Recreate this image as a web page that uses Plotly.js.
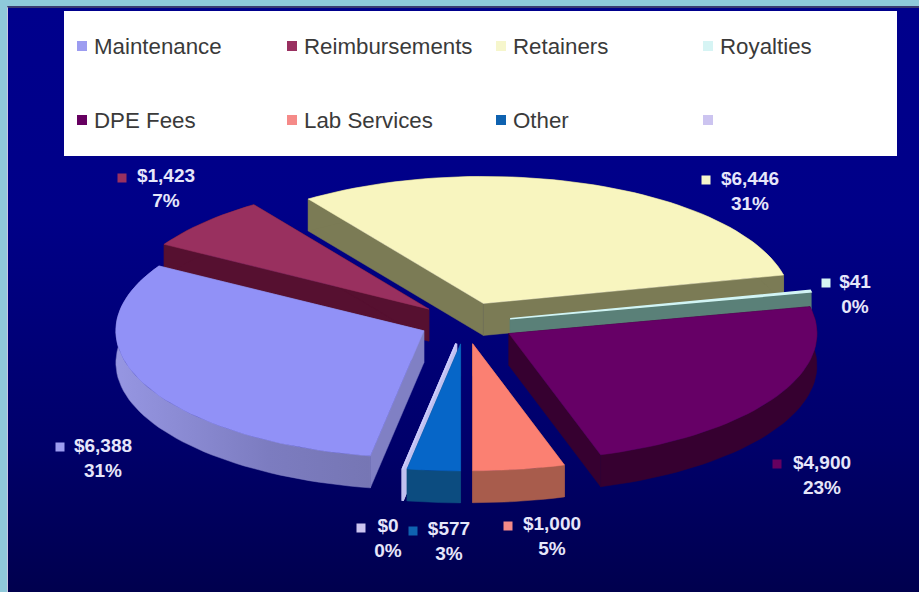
<!DOCTYPE html>
<html>
<head>
<meta charset="utf-8">
<script src="https://cdn.plot.ly/plotly-3.0.1.min.js"></script>
<style>
  html, body { margin: 0; padding: 0; background: #8fc9da; }
  #frame { position: absolute; left: 0; top: 0; width: 919px; height: 592px; background: #8fc9da; }
  #panel { position: absolute; left: 7px; top: 6px; right: 0; bottom: 0;
           background: linear-gradient(#00008c, #000088 35%, #00006a 75%, #00004e);
           border-left: 1px solid #c8c8e0; border-top: 2px solid #3a3a70; }
  #chart { position: absolute; left: 0; top: 0; width: 919px; height: 592px; }
</style>
</head>
<body>
<div id="frame"><div id="panel"></div><div id="chart"></div></div>
<script>
// Revenue by source
const categories = ['Maintenance', 'Reimbursements', 'Retainers', 'Royalties', 'DPE Fees', 'Lab Services', 'Other', ''];
const amounts = [6388, 1423, 6446, 41, 4900, 1000, 577, 0];
const percentLabels = ['31%', '7%', '31%', '0%', '23%', '5%', '3%', '0%'];

const topColors = ['#9191f7', '#99305f', '#f8f5bf', '#d2f5f5', '#660066', '#fb8072', '#0666c8', '#ccccff'];
const sideColors = ['#8080c4', '#561030', '#7b7b55', '#5a8078', '#360030', '#a85c4c', '#0c4c80', '#c0c0f0'];
const legendKeyColors = ['#9c9cf0', '#993060', '#f6f6cc', '#d6f4f4', '#660060', '#f58a88', '#0f62b0', '#ccc4f0'];

// Pie projection, in the page units of the two hidden axes
const centre = { x: 465, y: 323 };
const radius = { x: 308, y: 127 };
const thickness = 32;
const pulls = [0.147, 0.16, 0.165, 0.15, 0.165, 0.165, 0.165, 0.165];
const firstSliceAngle = 190;

// Placement of the data labels and the legend grid
const labelX = [103, 166, 750, 855, 822, 552, 449, 388];
const labelY = [459.5, 190, 193, 295.5, 477, 538, 543, 540];
const labelKeyX = [60, 122, 706, 826, 777, 508, 413, 361];
const labelKeyY = [447, 178, 180, 283, 464, 526, 531, 528];
const legendColumnX = [82, 292, 501, 708];
const legendRowY = [46, 120];

const total = amounts.reduce((a, b) => a + b, 0);
const rad = d => d * Math.PI / 180;

function slices() {
  let angle = firstSliceAngle;
  return amounts.map((v, i) => {
    const start = angle, end = angle + v / total * 360;
    angle = end;
    const mid = rad((start + end) / 2);
    return { i, start, end,
      ax: centre.x + pulls[i] * radius.x * Math.sin(mid),
      ay: centre.y - pulls[i] * radius.y * Math.cos(mid) };
  });
}

function arc(s) {
  const pts = [], n = Math.max(2, Math.ceil((s.end - s.start) / 2));
  for (let k = 0; k <= n; k++) {
    const t = rad(s.start + (s.end - s.start) * k / n);
    pts.push([s.ax + radius.x * Math.sin(t), s.ay - radius.y * Math.cos(t)]);
  }
  return pts;
}

function polygon(points, fill, lineWidth, extra) {
  return Object.assign({ type: 'scatter', mode: 'lines', x: points.map(p => p[0]), y: points.map(p => p[1]),
    fill: 'toself', fillcolor: fill, line: { color: fill, width: lineWidth }, hoverinfo: 'skip', showlegend: false }, extra || {});
}

// Each wall is its own trace, so overlapping walls do not cancel each other's fill
function sideTraces(s) {
  const a = arc(s), o = [s.ax, s.ay];
  const first = a[0], last = a[a.length - 1];
  const down = p => [p[0], p[1] + thickness];
  const colour = sideColors[s.i];
  const width = s.i === 7 ? 2 : 0.5;
  const band = a.concat(a.slice().reverse().map(down)).concat([a[0]]);
  const bandStyle = s.i === 0 ? { fillgradient: { type: 'horizontal',
    colorscale: [[0, '#9696e2'], [0.6, '#7c7cc0'], [1, '#7676b4']] } } : {};
  return [
    polygon([o, first, down(first), down(o), o], colour, width),
    polygon([o, last, down(last), down(o), o], colour, width),
    polygon(band, colour, width, bandStyle)
  ];
}

function topTrace(s) {
  const p = [[s.ax, s.ay]].concat(arc(s)).concat([[s.ax, s.ay]]);
  return polygon(p, topColors[s.i], (s.i === 3 || s.i === 7) ? 1.5 : 0.5, { name: categories[s.i], hoverinfo: 'name' });
}

// Back slices are painted first so nearer ones overlap them; the empty slice
// only leaves a thin edge around the slice next to it
const geo = slices();
const traces = [];
[2, 1, 3, 0, 4, 5].forEach(i => { traces.push(...sideTraces(geo[i]), topTrace(geo[i])); });
traces.push(...sideTraces(geo[7]));
traces.push(...sideTraces(geo[6]), topTrace(geo[6]));
traces.push(topTrace(geo[7]));

// Legend keys and names
const legendX = categories.map((_, i) => legendColumnX[i % 4]);
const legendY = categories.map((_, i) => legendRowY[Math.floor(i / 4)]);
traces.push({ type: 'scatter', mode: 'markers', x: legendX, y: legendY, hoverinfo: 'skip', showlegend: false,
  marker: { symbol: 'square', size: 10, color: legendKeyColors, line: { width: 0 } } });

// Data label keys and texts
traces.push({ type: 'scatter', mode: 'markers', x: labelKeyX, y: labelKeyY, hoverinfo: 'skip', showlegend: false,
  marker: { symbol: 'square', size: 9, color: legendKeyColors, line: { width: 0 } } });
traces.push({ type: 'scatter', mode: 'text', x: labelX, y: labelY, hoverinfo: 'skip', showlegend: false,
  text: amounts.map((v, i) => '<b>$' + v.toLocaleString('en-US') + '<br>' + percentLabels[i] + '</b>'),
  textposition: 'middle center',
  textfont: { family: 'Liberation Sans, Arial, sans-serif', size: 19, color: '#e6e6fa' } });

const legendNames = categories.map((name, i) => ({
  x: legendX[i] + 9.5, y: legendY[i], text: name, xref: 'x', yref: 'y', xanchor: 'left', yanchor: 'middle',
  showarrow: false, font: { family: 'Liberation Sans, Arial, sans-serif', size: 22.3, color: '#3a3a3a' }
})).filter(a => a.text);

const layout = {
  width: 919, height: 592, margin: { l: 0, r: 0, t: 0, b: 0 },
  paper_bgcolor: 'rgba(0,0,0,0)', plot_bgcolor: 'rgba(0,0,0,0)', showlegend: false,
  xaxis: { range: [0, 919], visible: false, fixedrange: true },
  yaxis: { range: [592, 0], visible: false, fixedrange: true },
  shapes: [{ type: 'rect', xref: 'x', yref: 'y', x0: 64, x1: 897, y0: 11, y1: 156, layer: 'below',
             fillcolor: '#ffffff', line: { width: 0 } }],
  annotations: legendNames
};

Plotly.newPlot('chart', traces, layout, { displayModeBar: false, staticPlot: true });
</script>
</body>
</html>
